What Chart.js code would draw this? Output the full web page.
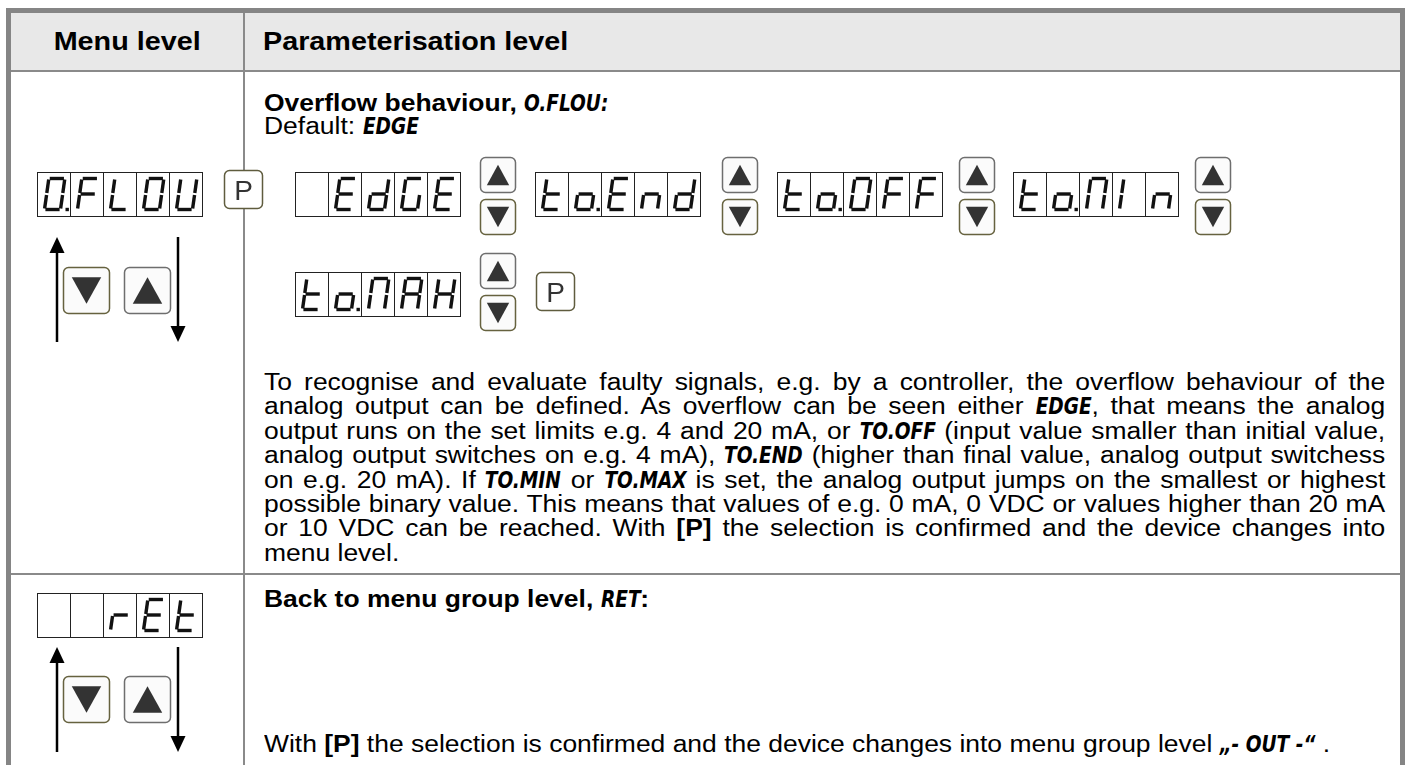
<!DOCTYPE html>
<html>
<head>
<meta charset="utf-8">
<script src="https://cdn.jsdelivr.net/npm/chart.js@4.4.1/dist/chart.umd.min.js"></script>
<style>
html, body { margin: 0; padding: 0; background: #fff; }
body { width: 1407px; height: 765px; overflow: hidden; position: relative;
  font-family: "Liberation Sans", Arial, Helvetica, sans-serif; color: #000; }
.box { position: absolute; }
#frame { left: 6px; top: 8px; width: 1399px; height: 800px; box-sizing: border-box;
  border: 5px solid #858585; border-bottom: none; }
#head { left: 11px; top: 13px; width: 1389px; height: 57px; background: #e8e8e8; }
.line { position: absolute; background: #8a8a8a; }
.t { position: absolute; white-space: nowrap; font-size: 23px; line-height: 23px;
  transform-origin: 0 0; transform: scaleX(1.15); }
.h { font-size: 25px; line-height: 25px; font-weight: bold; }
.seg { font-family: "Liberation Sans Narrow", "DejaVu Sans Condensed", sans-serif;
  font-weight: bold; font-style: italic; display: inline-block; transform-origin: 0 0; }
.pl { height: 24.4px; line-height: 24.4px; white-space: nowrap; text-align: justify; text-align-last: justify; }
.pl.last { text-align-last: left; }
#panel { position: absolute; left: 0; top: 0; z-index: 5; pointer-events: none; }
</style>
</head>
<body>
<div id="head" class="box"></div>
<div id="frame" class="box"></div>
<div class="line" style="left:11px;top:70px;width:1389px;height:2px"></div>
<div class="line" style="left:243px;top:13px;width:2px;height:760px"></div>
<div class="line" style="left:11px;top:573px;width:1389px;height:2px"></div>

<div class="t h" style="left:11px;top:29px;width:202px;text-align:center">Menu level</div>
<div class="t h" style="left:263px;top:29px">Parameterisation level</div>

<div class="t" style="left:264px;top:92px"><b>Overflow behaviour, <span class="seg">O.FLOU:</span></b><br>Default: <span class="seg">EDGE</span></div>
<div class="t" id="para" style="left:264px;top:370px;width:975px"></div>

<div class="t" style="left:264px;top:588px"><b>Back to menu group level, <span class="seg">RET</span>:</b></div>
<div class="t" style="left:264px;top:733px">With <b>[P]</b> the selection is confirmed and the device changes into menu group level <span class="seg">„- OUT -“</span> .</div>

<canvas id="panel" width="1407" height="765"></canvas>

<script>
// display texts, one entry per digit cell
const menuDisplays = [
    ["0.", "F", "L", "0", "U"],
    [" ", " ", "r", "E", "t"]
];
const choiceDisplays = [
    [" ", "E", "d", "G", "E"],
    ["t", "o.", "E", "n", "d"],
    ["t", "o.", "0", "F", "F"],
    ["t", "o.", "M", "I", "n"],
    ["t", "o.", "M", "A", "H"]
];

const paragraphLines = [
    "To recognise and evaluate faulty signals, e.g. by a controller, the overflow behaviour of the",
    "analog output can be defined. As overflow can be seen either <span class=\"seg\">EDGE</span>, that means the analog",
    "output runs on the set limits e.g. 4 and 20 mA, or <span class=\"seg\">TO.OFF</span> (input value smaller than initial value,",
    "analog output switches on e.g. 4 mA), <span class=\"seg\">TO.END</span> (higher than final value, analog output switchess",
    "on e.g. 20 mA). If <span class=\"seg\">TO.MIN</span> or <span class=\"seg\">TO.MAX</span> is set, the analog output jumps on the smallest or highest",
    "possible binary value. This means that values of e.g. 0 mA, 0 VDC or values higher than 20 mA",
    "or 10 VDC can be reached. With <b>[P]</b> the selection is confirmed and the device changes into",
    "menu level."
];

// layout
const CELL_W = 33, CELL_H = 44;
const menuDisplayPos = [[37, 172], [37, 593]];
const choicePos = [[295, 172], [535, 172], [777, 172], [1013, 172], [295, 272]];
const pairPos = [[480, 157], [722, 157], [959, 157], [1195, 157], [480, 253]];
const menuKeyRows = [267, 676];
const menuArrowRows = [[237, 342], [647, 752]];
const pKeys = [[224, 170], [536, 272]];

const SEG = {
    "0": "abcdef", "E": "adefg", "d": "bcdeg", "G": "acdef", "F": "aefg", "L": "def",
    "U": "bcdef", "t": "defg", "o": "cdeg", "n": "ceg", "r": "eg", "M": "abcef",
    "I": "ef", "A": "abcefg", "H": "bcefg", " ": ""
};

// fill paragraph
const para = document.getElementById("para");
paragraphLines.forEach((l, i) => {
    const d = document.createElement("div");
    d.className = "pl" + (i === paragraphLines.length - 1 ? " last" : "");
    d.innerHTML = l;
    para.appendChild(d);
});

// squeeze the display font
document.querySelectorAll(".seg").forEach(el => {
    const w = el.offsetWidth;
    el.style.transform = "scaleX(0.78)";
    el.style.marginRight = (-0.22 * w) + "px";
});

const panelPlugin = {
    id: "panel",
    afterDraw(chart) {
        const c = chart.ctx;
        const X = v => chart.scales.x.getPixelForValue(v);
        const Y = v => chart.scales.y.getPixelForValue(v);

        function glyph(x0, y0, ch) {
            const segs = SEG[ch.replace(".", "")] || "";
            const top = y0 + 6.5, bot = y0 + 37.5, mid = (top + bot) / 2;
            const L = x0 + 7.5, R = x0 + 23.5, k = 0.14, g = 0.9;
            const P = (x, y) => [X(x + k * (bot - y)), Y(y)];
            const parts = {
                a: [[L + g, top], [R - g, top]],
                b: [[R, top + g], [R, mid - g]],
                c: [[R, mid + g], [R, bot - g]],
                d: [[L + g, bot], [R - g, bot]],
                e: [[L, mid + g], [L, bot - g]],
                f: [[L, top + g], [L, mid - g]],
                g: [[L + g, mid], [R - g, mid]]
            };
            c.strokeStyle = "#111";
            c.lineWidth = 3.4;
            c.lineCap = "butt";
            for (const s of segs) {
                const [p1, p2] = parts[s];
                c.beginPath();
                c.moveTo(...P(p1[0], p1[1]));
                c.lineTo(...P(p2[0], p2[1]));
                c.stroke();
            }
            if (ch.includes(".")) {
                c.fillStyle = "#111";
                c.fillRect(X(x0 + 28.5), Y(y0 + 35.8), 3.4, 3.4);
            }
        }

        function display(x0, y0, cells) {
            c.fillStyle = "#fff";
            c.fillRect(X(x0), Y(y0), CELL_W * cells.length, CELL_H);
            c.strokeStyle = "#222";
            c.lineWidth = 1;
            cells.forEach((ch, i) => {
                c.strokeRect(X(x0 + i * CELL_W) + 0.5, Y(y0) + 0.5, CELL_W, CELL_H);
            });
            cells.forEach((ch, i) => glyph(x0 + i * CELL_W, y0, ch));
        }

        function key(x, y, s, up) {
            c.beginPath();
            c.roundRect(X(x) + 0.5, Y(y) + 0.5, s, s, 5);
            c.fillStyle = "#fbfbfb";
            c.fill();
            c.lineWidth = 1.5;
            c.strokeStyle = up ? "#6e6e6e" : "#66623f";
            c.stroke();
            const cx = X(x + s / 2 + 0.5), cy = Y(y + s / 2 + 0.5);
            const tw = s * 0.64, th = s * 0.58;
            c.beginPath();
            if (up) {
                c.moveTo(cx, cy - th / 2);
                c.lineTo(cx + tw / 2, cy + th / 2);
                c.lineTo(cx - tw / 2, cy + th / 2);
            } else {
                c.moveTo(cx, cy + th / 2);
                c.lineTo(cx + tw / 2, cy - th / 2);
                c.lineTo(cx - tw / 2, cy - th / 2);
            }
            c.closePath();
            c.fillStyle = "#333";
            c.fill();
        }

        function pKey(x, y) {
            c.beginPath();
            c.roundRect(X(x) + 0.5, Y(y) + 0.5, 38, 38, 5);
            c.fillStyle = "#fff";
            c.fill();
            c.lineWidth = 1.5;
            c.strokeStyle = "#5f5c3e";
            c.stroke();
            c.fillStyle = "#333";
            c.font = "28px 'Liberation Sans', Arial, sans-serif";
            c.textAlign = "center";
            c.textBaseline = "alphabetic";
            c.fillText("P", X(x + 19.5), Y(y + 29.5));
        }

        function arrow(x, y1, y2) {
            // from y1 to y2, head at y2
            const dir = y2 > y1 ? 1 : -1;
            c.strokeStyle = "#000";
            c.lineWidth = 2.5;
            c.beginPath();
            c.moveTo(X(x), Y(y1));
            c.lineTo(X(x), Y(y2 - dir * 14));
            c.stroke();
            c.fillStyle = "#000";
            c.beginPath();
            c.moveTo(X(x), Y(y2));
            c.lineTo(X(x + 7.5), Y(y2 - dir * 16));
            c.lineTo(X(x - 7.5), Y(y2 - dir * 16));
            c.closePath();
            c.fill();
        }

        menuDisplays.forEach((d, i) => display(menuDisplayPos[i][0], menuDisplayPos[i][1], d));
        choiceDisplays.forEach((d, i) => display(choicePos[i][0], choicePos[i][1], d));
        pairPos.forEach(([x, y]) => {
            key(x, y, 35, true);
            key(x, y + 42, 35, false);
        });
        menuKeyRows.forEach((y, i) => {
            key(63, y, 46, false);
            key(124, y, 46, true);
            arrow(57, menuArrowRows[i][1], menuArrowRows[i][0]);
            arrow(178, menuArrowRows[i][0], menuArrowRows[i][1]);
        });
        pKeys.forEach(([x, y]) => pKey(x, y));
    }
};

new Chart(document.getElementById("panel"), {
    type: "scatter",
    data: { datasets: [] },
    options: {
        responsive: false,
        animation: false,
        events: [],
        layout: { padding: 0 },
        plugins: { legend: { display: false }, tooltip: { enabled: false } },
        scales: {
            x: { type: "linear", min: 0, max: 1407, display: false },
            y: { type: "linear", min: 0, max: 765, reverse: true, display: false }
        }
    },
    plugins: [panelPlugin]
});
</script>
</body>
</html>
